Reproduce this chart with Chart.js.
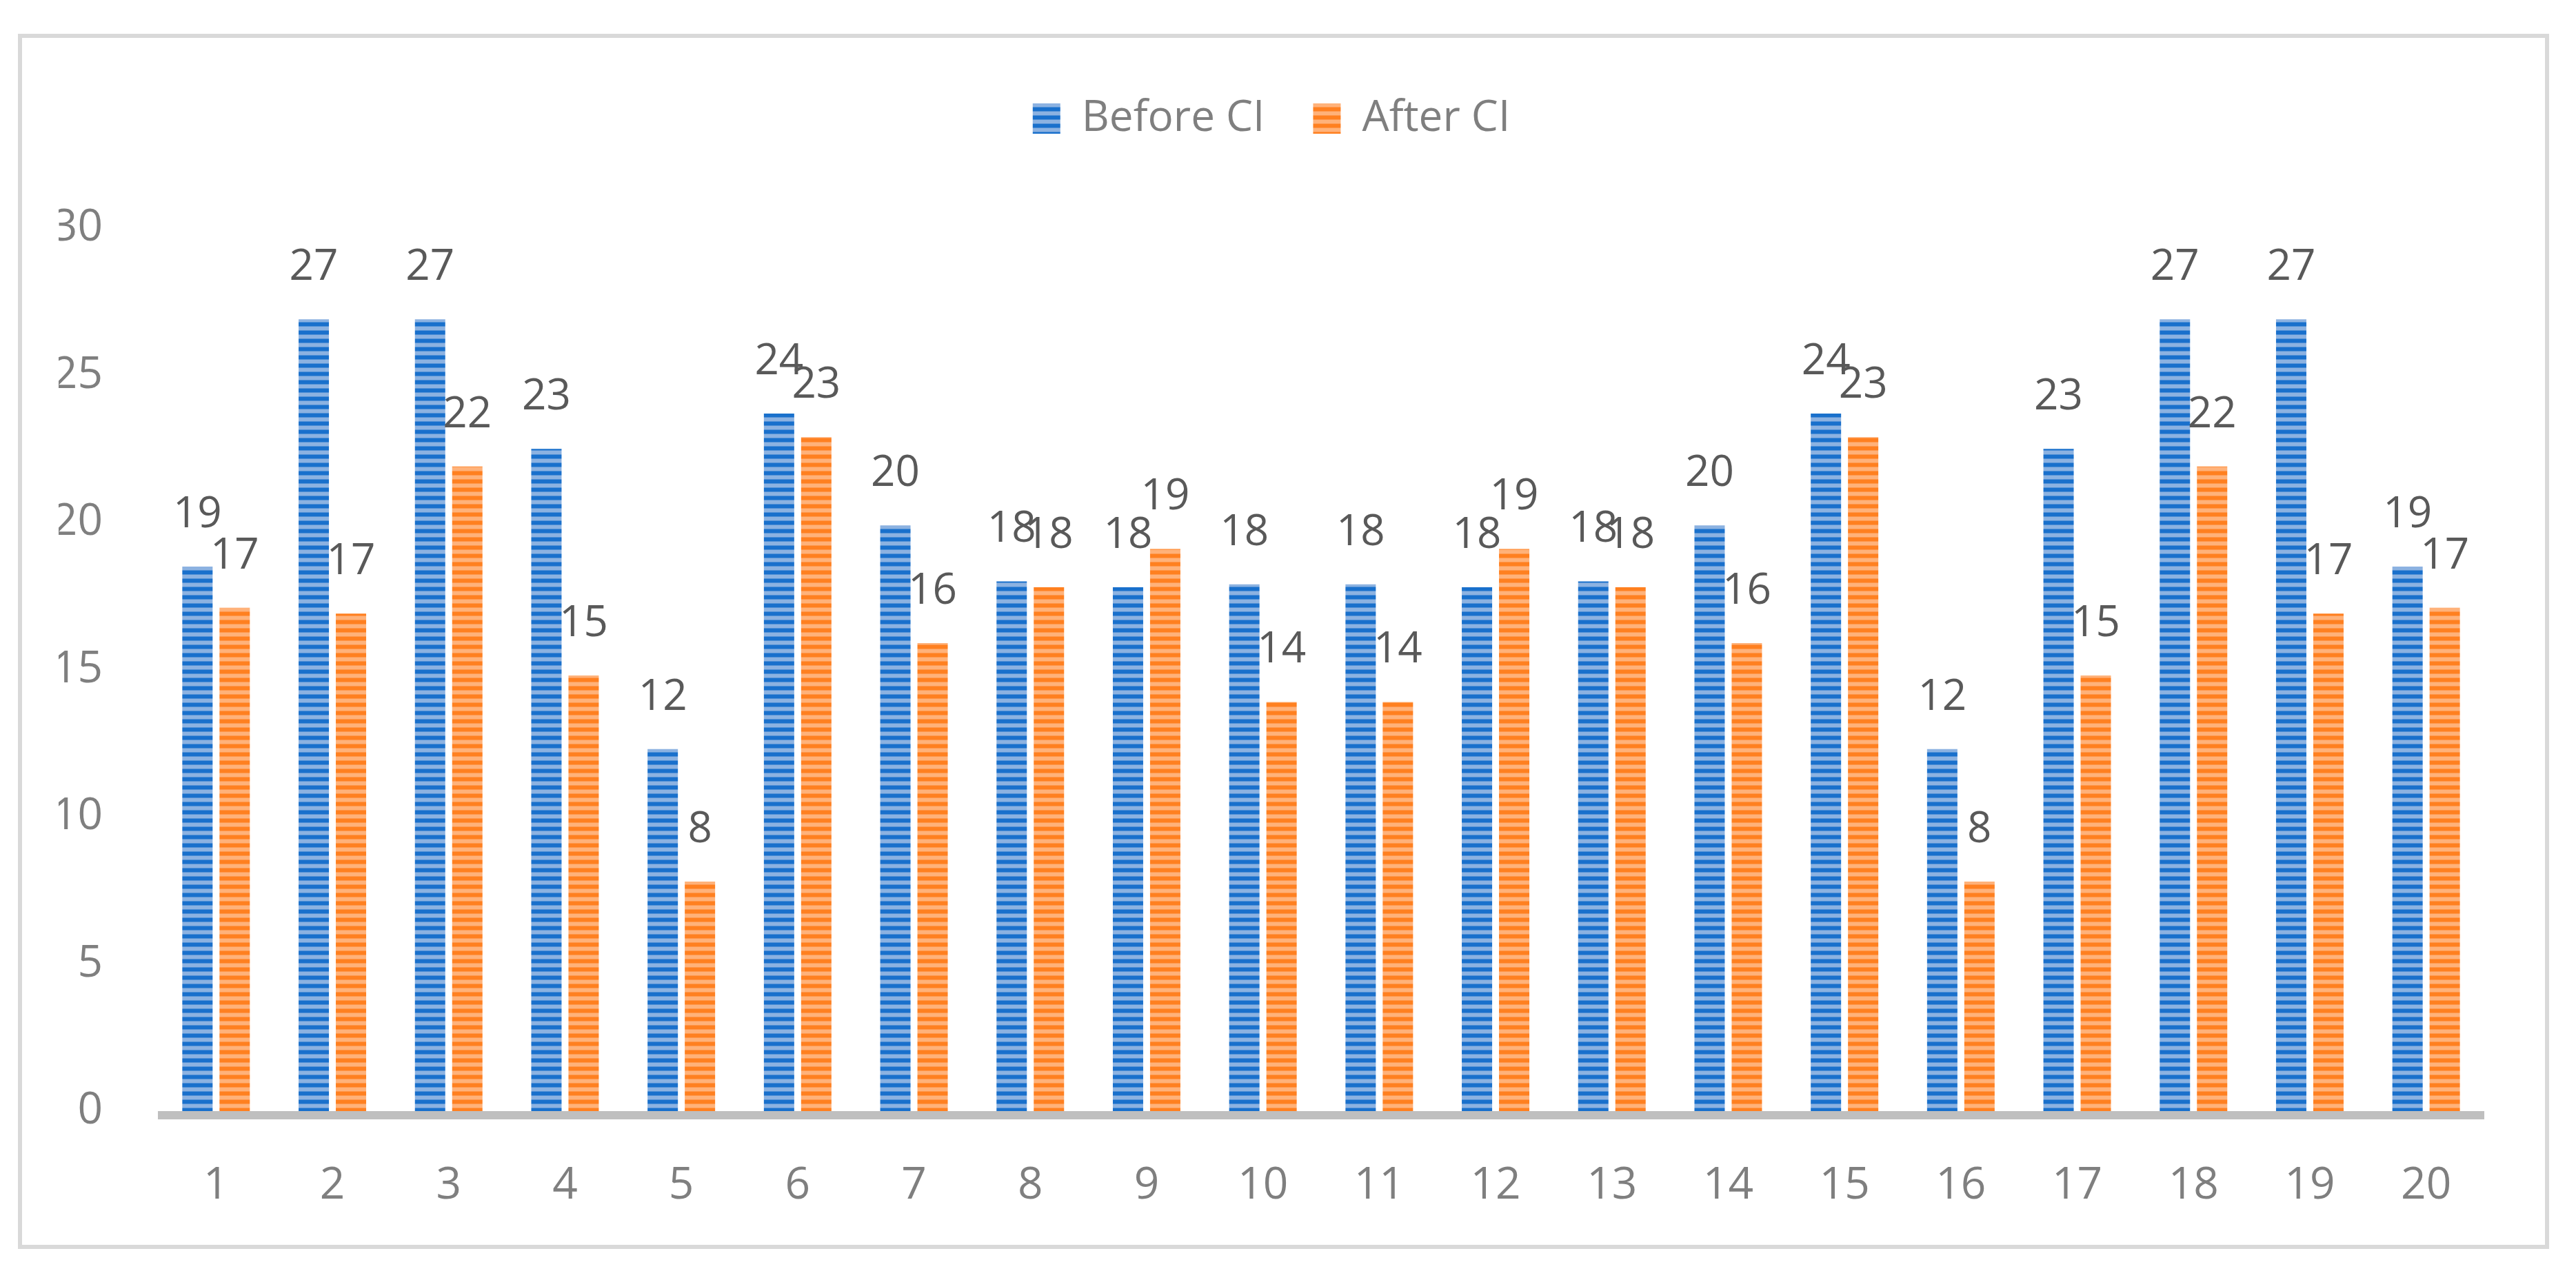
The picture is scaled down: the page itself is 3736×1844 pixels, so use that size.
<!DOCTYPE html>
<html lang="en">
<head>
    <meta charset="UTF-8">
    <title>Before CI / After CI</title>
    <script src="https://cdn.jsdelivr.net/npm/chart.js"></script>
    <style>
        body {
            margin: 0;
            background-color: white;
        }
        canvas {
            display: block;
        }
    </style>
</head>
<body>
    <canvas id="myChart" width="3736" height="1844"></canvas>

    <script>
        // Dados
        const categorias = ['1', '2', '3', '4', '5', '6', '7', '8', '9', '10',
                            '11', '12', '13', '14', '15', '16', '17', '18', '19', '20'];
        const antesCI = [18.5, 26.9, 26.9, 22.5, 12.3, 23.7, 19.9, 18.0, 17.8, 17.9,
                         17.9, 17.8, 18.0, 19.9, 23.7, 12.3, 22.5, 26.9, 26.9, 18.5];
        const depoisCI = [17.1, 16.9, 21.9, 14.8, 7.8, 22.9, 15.9, 17.8, 19.1, 13.9,
                          13.9, 19.1, 17.8, 15.9, 22.9, 7.8, 14.8, 21.9, 16.9, 17.1];
        const nomesSeries = ['Before CI', 'After CI'];
        const ticksY = [0, 5, 10, 15, 20, 25, 30];

        const fonte = '"Open Sans", "DejaVu Sans", sans-serif';

        // Padrão de listras horizontais (como no Excel)
        function listras(escuro, meio, claro) {
            const c = document.createElement('canvas');
            c.width = 4;
            c.height = 12;
            const g = c.getContext('2d');
            g.fillStyle = claro;
            g.fillRect(0, 0, 4, 12);
            g.fillStyle = escuro;
            g.fillRect(0, 0, 4, 5);
            g.fillStyle = meio;
            g.fillRect(0, 5, 4, 1);
            g.fillRect(0, 11, 4, 1);
            return g.createPattern(c, 'repeat');
        }

        const azul = listras('rgb(25,112,204)', 'rgb(82,145,214)', 'rgb(140,178,225)');
        const laranja = listras('rgb(255,128,32)', 'rgb(255,152,76)', 'rgb(255,178,122)');

        // Moldura e fundo
        const moldura = {
            id: 'moldura',
            beforeDraw(chart) {
                const ctx = chart.ctx;
                ctx.save();
                ctx.fillStyle = 'white';
                ctx.fillRect(0, 0, chart.width, chart.height);
                ctx.strokeStyle = '#d9d9d9';
                ctx.lineWidth = 6;
                ctx.strokeRect(29, 52, chart.width - 71, chart.height - 87);
                ctx.restore();
            }
        };

        // Espaço extra abaixo da legenda
        const margemLegenda = {
            id: 'margemLegenda',
            beforeInit(chart) {
                const fitOriginal = chart.legend.fit;
                chart.legend.fit = function () {
                    fitOriginal.bind(chart.legend)();
                    this.height += 118;
                };
            }
        };

        // Linha do eixo X e rótulos de dados
        const rotulos = {
            id: 'rotulos',
            afterDatasetsDraw(chart) {
                const ctx = chart.ctx;
                const area = chart.chartArea;
                ctx.save();
                ctx.fillStyle = '#bfbfbf';
                ctx.fillRect(area.left, area.bottom, area.right - area.left, 12);

                ctx.font = '62px ' + fonte;
                ctx.fillStyle = '#595959';
                ctx.textAlign = 'center';
                ctx.textBaseline = 'alphabetic';
                chart.data.datasets.forEach((ds, i) => {
                    chart.getDatasetMeta(i).data.forEach((bar, j) => {
                        ctx.fillText(String(Math.round(ds.data[j])), bar.x, bar.y - 57);
                    });
                });
                ctx.restore();
            }
        };

        const ctx = document.getElementById('myChart').getContext('2d');

        new Chart(ctx, {
            type: 'bar',
            data: {
                labels: categorias,
                datasets: [
                    {
                        label: nomesSeries[0],
                        data: antesCI,
                        backgroundColor: azul,
                        borderWidth: 0,
                        borderColor: 'rgba(0,0,0,0)'
                    },
                    {
                        label: nomesSeries[1],
                        data: depoisCI,
                        backgroundColor: laranja,
                        borderWidth: 0,
                        borderColor: 'rgba(0,0,0,0)'
                    }
                ]
            },
            options: {
                responsive: false,
                animation: false,
                devicePixelRatio: 1,
                datasets: {
                    bar: {
                        categoryPercentage: 0.64,
                        barPercentage: 0.815
                    }
                },
                layout: {
                    padding: { left: 85, right: 133, top: 71, bottom: 93 }
                },
                plugins: {
                    legend: {
                        position: 'top',
                        labels: {
                            font: { family: fonte, size: 62 },
                            color: '#7f7f7f',
                            boxWidth: 40,
                            boxHeight: 44,
                            padding: 70
                        }
                    },
                    tooltip: { enabled: false }
                },
                scales: {
                    x: {
                        grid: { display: false },
                        border: { display: false },
                        afterFit(scale) {
                            scale.height = 139;
                        },
                        ticks: {
                            font: { family: fonte, size: 64 },
                            color: '#7f7f7f',
                            padding: 62,
                            maxRotation: 0
                        }
                    },
                    y: {
                        min: ticksY[0],
                        max: ticksY[ticksY.length - 1],
                        grid: { display: false },
                        border: { display: false },
                        afterFit(scale) {
                            scale.width = 144;
                        },
                        afterBuildTicks(scale) {
                            scale.ticks = ticksY.map(v => ({ value: v }));
                        },
                        ticks: {
                            font: { family: fonte, size: 64 },
                            color: '#7f7f7f',
                            padding: 72
                        }
                    }
                }
            },
            plugins: [moldura, margemLegenda, rotulos]
        });
    </script>
</body>
</html>
